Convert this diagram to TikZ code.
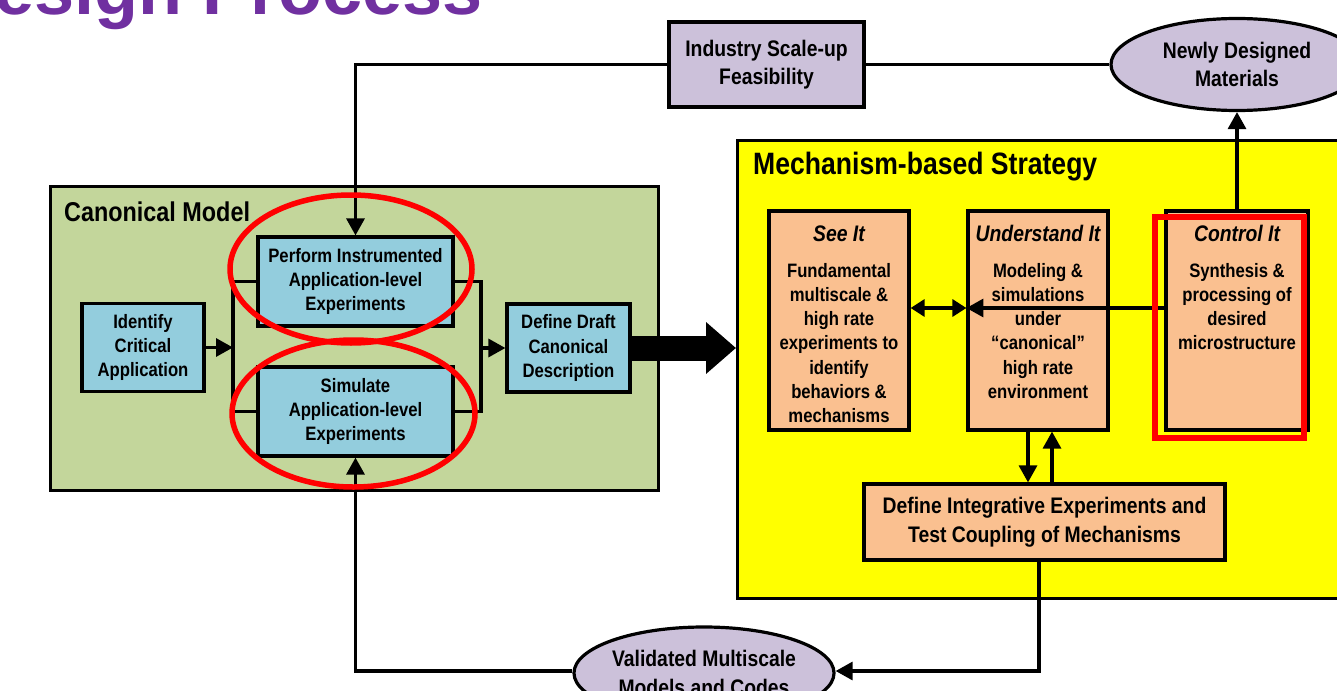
\documentclass[tikz,border=0pt]{standalone}
\usepackage{fontspec}
\setmainfont{Liberation Sans}[FakeStretch=0.86]
\newfontfamily\titlefont{Liberation Sans}
\usetikzlibrary{arrows.meta,shapes.geometric}
\definecolor{cgreen}{HTML}{C3D69B}
\definecolor{cblue}{HTML}{93CDDD}
\definecolor{cpeach}{HTML}{FAC090}
\definecolor{clav}{HTML}{CCC1DA}
\definecolor{cpurple}{HTML}{7030A0}
\definecolor{cyel}{HTML}{FFFF00}
\begin{document}
\begin{tikzpicture}[x=1pt,y=-1pt,
  frame/.style={draw=black,line width=3.2pt,inner sep=0pt,anchor=north west},
  bbox/.style={draw=black,line width=3.2pt,fill=cblue,inner sep=0pt,align=center,
     font=\bfseries\fontsize{19.4pt}{24.2pt}\selectfont},
  pbox/.style={draw=black,line width=3.2pt,fill=cpeach,inner sep=0pt},
  lbox/.style={draw=black,line width=3.2pt,fill=clav,inner sep=0pt,align=center,
     font=\bfseries\fontsize{22.5pt}{28.5pt}\selectfont},
  lell/.style={lbox,ellipse},
  ptext/.style={inner sep=0pt,align=center,font=\bfseries\fontsize{19.4pt}{24.2pt}\selectfont},
  phead/.style={inner sep=0pt,anchor=base,font=\bfseries\itshape\fontsize{22.5pt}{24pt}\selectfont},
  ttl/.style={inner sep=0pt,anchor=west,font=\bfseries\fontsize{#1}{30pt}\selectfont},
  ln/.style={line width=3.2pt},
  arr/.style={line width=3.2pt,-{Triangle[length=17pt,width=18pt]}},
  arrs/.style={line width=3.2pt,{Triangle[length=14pt,width=17pt]}-{Triangle[length=14pt,width=17pt]}},
  redmark/.style={draw=red,line width=5.5pt,inner sep=0pt}
]
\useasboundingbox (0,0) rectangle (1337,690);
\clip (0,0) rectangle (1337,690);

% title
\node[anchor=base east,inner sep=0pt,text=cpurple,
  font=\titlefont\bfseries\fontsize{72pt}{80pt}\selectfont] (title) at (483,15) {Design Process};

% frames
\node[frame,fill=cgreen,minimum width=608pt,minimum height=304pt] (canon) at (49,185) {};
\node[ttl=27.2pt] (canontitle) at (64,212) {Canonical Model};
\node[frame,fill=cyel,minimum width=660pt,minimum height=458pt] (mech) at (736,139) {};
\node[ttl=30.9pt] (mechtitle) at (753,167) {Mechanism-based Strategy};

% canonical model boxes
\node[bbox,minimum width=122pt,minimum height=88pt] (ident) at (143,347.5) {Identify\\Critical\\Application};
\node[bbox,minimum width=195pt,minimum height=89pt] (perf) at (355.5,281.5) {Perform Instrumented\\Application-level\\Experiments};
\node[bbox,minimum width=195pt,minimum height=89pt] (sim) at (355.5,411.5) {Simulate\\Application-level\\Experiments};
\node[bbox,minimum width=123pt,minimum height=88pt] (dd) at (568.5,348) {Define Draft\\Canonical\\Description};

\coordinate (lbar) at (233,347.5);
\coordinate (rbar) at (481,348);
\draw[ln] (perf.west) -- (perf.west -| lbar) -- (sim.west -| lbar) -- (sim.west);
\draw[arr] (ident.east) -- (ident.east -| lbar);
\draw[ln] (perf.east) -- (perf.east -| rbar) -- (sim.east -| rbar) -- (sim.east);
\draw[arr] (dd.west -| rbar) -- (dd.west);

% big arrow
\draw[line width=25pt,-{Triangle[length=30pt,width=50pt]}] (dd.east) -- (dd.east -| mech.west);

% mechanism boxes
\node[pbox,minimum width=140pt,minimum height=219pt] (see) at (839,320.5) {};
\node[pbox,minimum width=140pt,minimum height=219pt] (und) at (1038,320.5) {};
\node[pbox,minimum width=142pt,minimum height=219pt] (ctrl) at (1237,320.5) {};
\node[phead] (seeh) at (839,241) {See It};
\node[phead] (undh) at (1038,241) {Understand It};
\node[phead] (ctrlh) at (1237,241) {Control It};
\node[ptext,anchor=north] (seet) at (839,263) {Fundamental\\multiscale \&\\high rate\\experiments to\\identify\\behaviors \&\\mechanisms};
\node[ptext,anchor=north] (undt) at (1038,263) {Modeling \&\\simulations\\under\\``canonical''\\high rate\\environment};
\node[ptext,anchor=north] (ctrlt) at (1237,263) {Synthesis \&\\processing of\\desired\\microstructure};
\node[pbox,align=center,minimum width=361pt,minimum height=76pt,
  font=\bfseries\fontsize{22.5pt}{28.5pt}\selectfont] (integ) at (1044.5,522)
  {Define Integrative Experiments and\\Test Coupling of Mechanisms};

\coordinate (h1) at (0,308);
\draw[arrs] (see.east |- h1) -- (und.west |- h1);
\draw[arr] (ctrl.west |- h1) -- (und.west |- h1);
\coordinate (d1) at (1028,0);
\coordinate (u1) at (1052,0);
\draw[arr] (und.south -| d1) -- (integ.north -| d1);
\draw[arr] (integ.north -| u1) -- (und.south -| u1);

% outer nodes
\node[lbox,minimum width=195pt,minimum height=85pt] (ind) at (766.5,64.5) {Industry Scale-up\\Feasibility};
\node[lell,minimum width=252pt,minimum height=92pt] (nd) at (1237,64.5) {Newly Designed\\Materials};
\node[lell,minimum width=250pt,minimum height=92pt] (val) at (704,673) {Validated Multiscale\\Models and Codes};

\coordinate (bl) at (1039,671);
\draw[arr] (ctrl.north) -- (nd.south);
\draw[ln] (nd.west) -- (ind.east);
\draw[arr] (ind.west) -| (perf.north);
\draw[arr] (integ.south -| bl) -- (bl) -- (val.east |- bl);
\draw[arr] (val.west |- bl) -| (sim.south);

% red highlights
\node[redmark,ellipse,minimum width=242pt,minimum height=148pt] (e1) at (351,269) {};
\node[redmark,ellipse,minimum width=243pt,minimum height=147pt] (e2) at (353.5,413.5) {};
\node[redmark,minimum width=149pt,minimum height=221pt] (rr) at (1229.5,327.5) {};
\end{tikzpicture}
\end{document}
